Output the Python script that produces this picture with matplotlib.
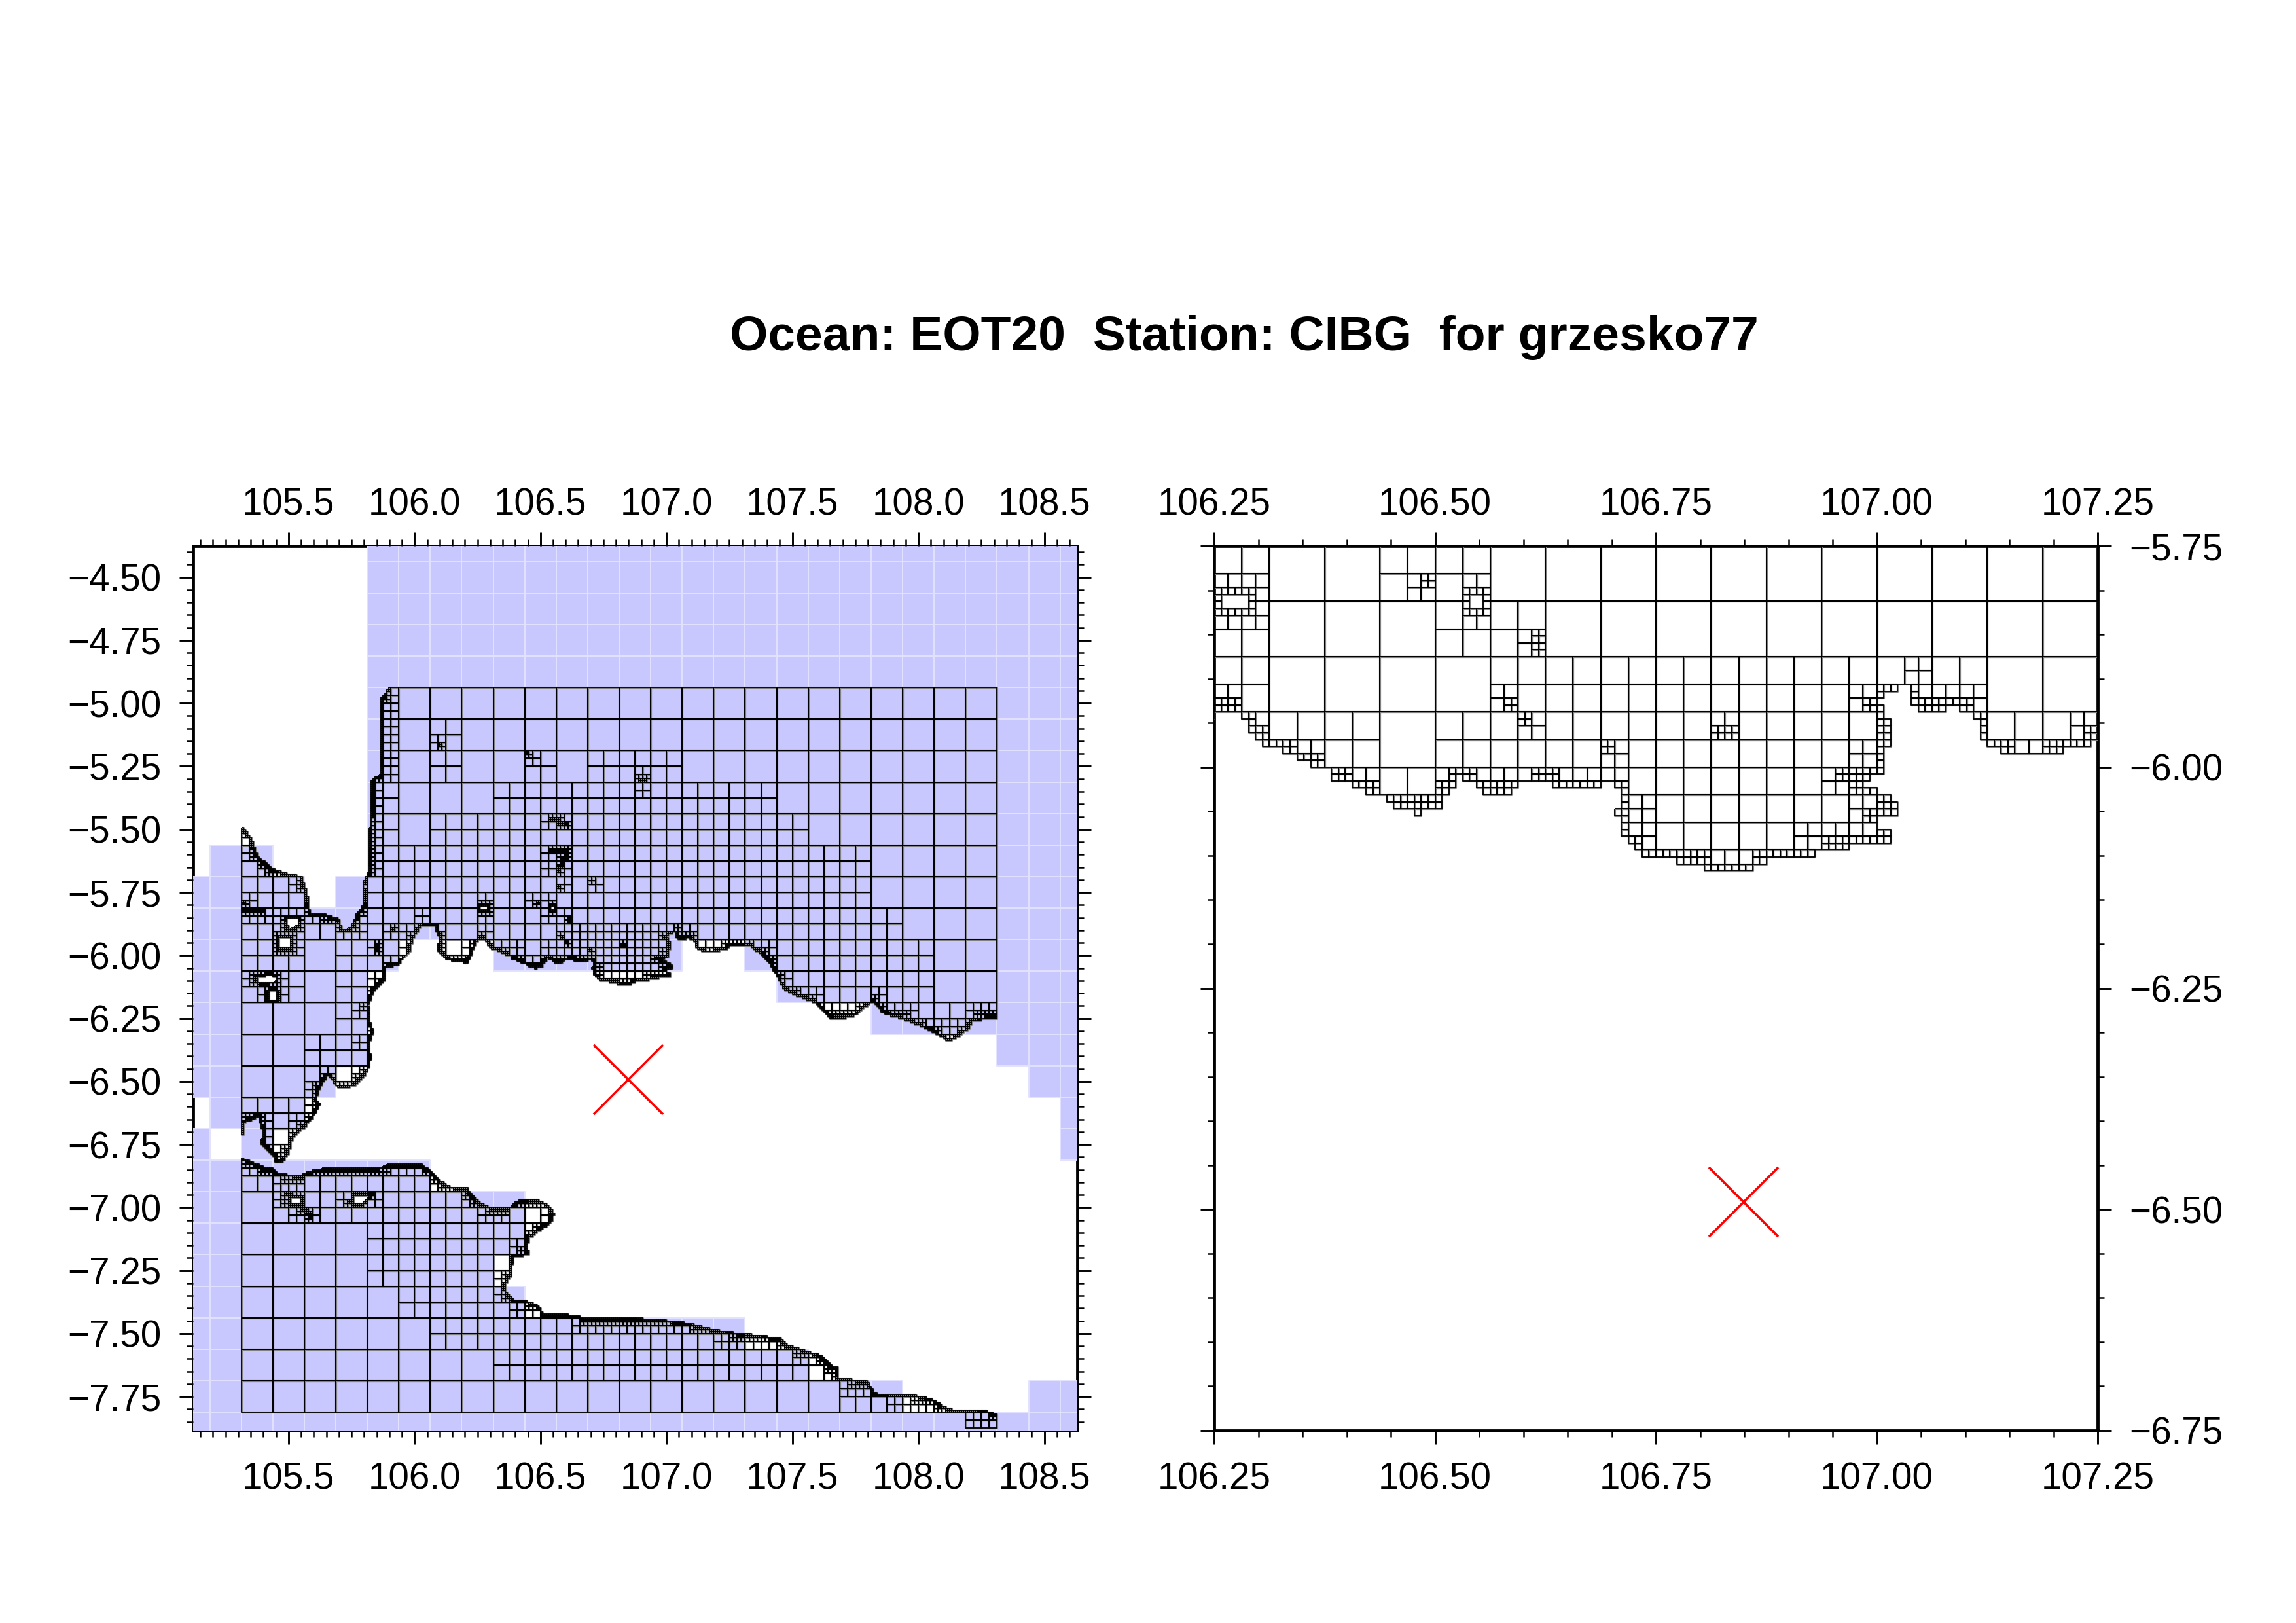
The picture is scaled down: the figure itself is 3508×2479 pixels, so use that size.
import matplotlib
matplotlib.use("Agg")
import matplotlib.pyplot as plt
import numpy as np
from matplotlib.path import Path
from matplotlib.patches import Polygon, Rectangle
from matplotlib.collections import LineCollection, PatchCollection
from matplotlib.ticker import MultipleLocator, FuncFormatter

plt.rcParams["font.family"] = ["Liberation Sans", "DejaVu Sans"]

title = "Ocean: EOT20  Station: CIBG  for grzesko77"
station = (106.849, -6.492)

# coarse blue cells: column west edge -> (top, bottom) lat spans
blue_spans = {
    105.0625: [(-5.6875, -6.5625), (-6.6875, -7.9375)],
    105.1875: [(-5.5625, -6.6875), (-6.8125, -7.9375)],
    105.3125: [(-5.5625, -7.9375)],
    105.4375: [(-5.6875, -6.6875), (-6.8125, -7.9375)],
    105.5625: [(-5.8125, -6.5625), (-6.8125, -7.9375)],
    105.6875: [(-5.6875, -6.4375), (-6.8125, -7.9375)],
    105.8125: [(-4.3125, -6.0625), (-6.8125, -7.9375)],
    105.9375: [(-4.3125, -5.9375), (-6.8125, -7.9375)],
    106.0625: [(-4.3125, -5.9375), (-6.9375, -7.9375)],
    106.1875: [(-4.3125, -5.9375), (-6.9375, -7.9375)],
    106.3125: [(-4.3125, -6.0625), (-6.9375, -7.1875), (-7.3125, -7.9375)],
    106.4375: [(-4.3125, -6.0625), (-7.4375, -7.9375)],
    106.5625: [(-4.3125, -6.0625), (-7.4375, -7.9375)],
    106.6875: [(-4.3125, -6.0625), (-7.4375, -7.9375)],
    106.8125: [(-4.3125, -6.0625), (-7.4375, -7.9375)],
    106.9375: [(-4.3125, -6.0625), (-7.4375, -7.9375)],
    107.0625: [(-4.3125, -5.9375), (-7.4375, -7.9375)],
    107.1875: [(-4.3125, -5.9375), (-7.4375, -7.9375)],
    107.3125: [(-4.3125, -6.0625), (-7.5625, -7.9375)],
    107.4375: [(-4.3125, -6.1875), (-7.5625, -7.9375)],
    107.5625: [(-4.3125, -6.1875), (-7.6875, -7.9375)],
    107.6875: [(-4.3125, -6.1875), (-7.6875, -7.9375)],
    107.8125: [(-4.3125, -6.3125), (-7.6875, -7.9375)],
    107.9375: [(-4.3125, -6.3125), (-7.8125, -7.9375)],
    108.0625: [(-4.3125, -6.3125), (-7.8125, -7.9375)],
    108.1875: [(-4.3125, -6.3125), (-7.8125, -7.9375)],
    108.3125: [(-4.3125, -6.4375), (-7.8125, -7.9375)],
    108.4375: [(-4.3125, -6.5625), (-7.6875, -7.9375)],
    108.5625: [(-4.3125, -6.8125), (-7.6875, -7.9375)],
}

# north sea outline: Sumatra coast, strait, north Java coast
north_sea = [
    (105.903, -4.937), (105.868, -4.984), (105.865, -5.282), (105.830, -5.302), (105.822, -5.560),
    (105.816, -5.679), (105.793, -5.712), (105.799, -5.799), (105.770, -5.838), (105.746, -5.891),
    (105.714, -5.902), (105.700, -5.858), (105.659, -5.841), (105.584, -5.832), (105.572, -5.746),
    (105.549, -5.686), (105.503, -5.679), (105.439, -5.659), (105.375, -5.606), (105.352, -5.540),
    (105.315, -5.487), (105.300, -5.480), (105.300, -6.708), (105.320, -6.708), (105.320, -6.661),
    (105.346, -6.656), (105.377, -6.639), (105.394, -6.682), (105.403, -6.721), (105.385, -6.734),
    (105.411, -6.769), (105.440, -6.791), (105.446, -6.821), (105.472, -6.821), (105.498, -6.786),
    (105.507, -6.756), (105.515, -6.721), (105.537, -6.700), (105.563, -6.682), (105.584, -6.652),
    (105.610, -6.622), (105.623, -6.587), (105.610, -6.570), (105.619, -6.535), (105.632, -6.509),
    (105.654, -6.475), (105.675, -6.488), (105.688, -6.518), (105.719, -6.526), (105.762, -6.513),
    (105.797, -6.483), (105.818, -6.444), (105.827, -6.405), (105.818, -6.353), (105.836, -6.301),
    (105.823, -6.258), (105.816, -6.196), (105.839, -6.143), (105.880, -6.103), (105.886, -6.050),
    (105.932, -6.037), (105.984, -5.984), (105.990, -5.938), (106.025, -5.885), (106.083, -5.885),
    (106.100, -5.931), (106.094, -5.984), (106.135, -6.017), (106.210, -6.030), (106.234, -5.971),
    (106.250, -5.938), (106.282, -5.938), (106.289, -5.960), (106.305, -5.972), (106.320, -5.979),
    (106.343, -5.987), (106.360, -5.999), (106.380, -6.004), (106.386, -6.014), (106.399, -6.018),
    (106.418, -6.026), (106.436, -6.031), (106.442, -6.034), (106.452, -6.043), (106.471, -6.045),
    (106.476, -6.055), (106.485, -6.047), (106.500, -6.045), (106.509, -6.041), (106.515, -6.026),
    (106.528, -6.010), (106.542, -6.014), (106.555, -6.026), (106.562, -6.031), (106.581, -6.031),
    (106.590, -6.020), (106.618, -6.018), (106.631, -6.018), (106.644, -6.026), (106.654, -6.027),
    (106.673, -6.020), (106.701, -6.019), (106.713, -6.031), (106.715, -6.042), (106.703, -6.047),
    (106.703, -6.054), (106.713, -6.062), (106.713, -6.073), (106.717, -6.085), (106.727, -6.093),
    (106.741, -6.101), (106.776, -6.103), (106.776, -6.109), (106.804, -6.109), (106.807, -6.119),
    (106.852, -6.119), (106.864, -6.109), (106.880, -6.103), (106.901, -6.098), (106.927, -6.098),
    (106.951, -6.095), (106.975, -6.087), (107.017, -6.082), (107.017, -6.074), (107.003, -6.067),
    (107.001, -6.059), (107.019, -6.056), (107.024, -6.043), (107.017, -6.031), (107.001, -6.027),
    (106.986, -6.026), (106.989, -6.008), (106.970, -6.011), (106.968, -6.006), (107.005, -6.004),
    (107.008, -5.991), (107.003, -5.985), (107.019, -5.971), (107.017, -5.952), (107.010, -5.947),
    (107.008, -5.933), (107.001, -5.932), (107.001, -5.921), (107.019, -5.915), (107.027, -5.909),
    (107.041, -5.910), (107.041, -5.925), (107.053, -5.937), (107.076, -5.937), (107.078, -5.931),
    (107.107, -5.935), (107.119, -5.959), (107.121, -5.970), (107.135, -5.979), (107.161, -5.988),
    (107.187, -5.988), (107.211, -5.980), (107.239, -5.973), (107.248, -5.964), (107.263, -5.960),
    (107.329, -5.960), (107.369, -5.991), (107.409, -6.030), (107.436, -6.077), (107.462, -6.130),
    (107.502, -6.156), (107.542, -6.170), (107.595, -6.189), (107.648, -6.249), (107.681, -6.252),
    (107.754, -6.236), (107.780, -6.209), (107.820, -6.183), (107.860, -6.229), (107.933, -6.249),
    (107.992, -6.272), (108.059, -6.302), (108.125, -6.339), (108.165, -6.315), (108.198, -6.289),
    (108.218, -6.256), (108.317, -6.249), (108.320, -4.930), (105.900, -4.930),
]

# south sea outline: south Java coast going east
south_sea = [
    (105.300, -6.800), (105.308, -6.804), (105.352, -6.819), (105.404, -6.844), (105.433, -6.844),
    (105.456, -6.869), (105.549, -6.874), (105.596, -6.854), (105.665, -6.842), (105.735, -6.842),
    (105.804, -6.844), (105.886, -6.839), (105.897, -6.829), (106.025, -6.827), (106.065, -6.859),
    (106.094, -6.888), (106.141, -6.918), (106.205, -6.923), (106.234, -6.958), (106.263, -6.983),
    (106.303, -7.001), (106.373, -7.001), (106.419, -6.968), (106.500, -6.973), (106.541, -7.003),
    (106.553, -7.028), (106.541, -7.062), (106.500, -7.087), (106.454, -7.122), (106.442, -7.167),
    (106.460, -7.187), (106.390, -7.197), (106.384, -7.251), (106.379, -7.271), (106.361, -7.301),
    (106.361, -7.331), (106.390, -7.366), (106.442, -7.370), (106.483, -7.385), (106.512, -7.420),
    (106.605, -7.425), (106.663, -7.435), (106.756, -7.440), (106.852, -7.435), (106.938, -7.445),
    (107.044, -7.452), (107.131, -7.470), (107.223, -7.492), (107.303, -7.500), (107.349, -7.505),
    (107.455, -7.520), (107.475, -7.544), (107.555, -7.569), (107.608, -7.584), (107.648, -7.624),
    (107.681, -7.639), (107.681, -7.679), (107.794, -7.689), (107.827, -7.738), (107.973, -7.743),
    (108.052, -7.758), (108.099, -7.788), (108.145, -7.805), (108.264, -7.805), (108.317, -7.823),
    (108.317, -7.900), (105.300, -7.900),
]

# small islands (holes in the mesh)
islands = [
    [(105.491, -5.851), (105.538, -5.851), (105.538, -5.880), (105.505, -5.898), (105.491, -5.880)],
    [(105.462, -5.931), (105.509, -5.931), (105.509, -5.971), (105.462, -5.971)],
    [(105.375, -6.090), (105.420, -6.077), (105.450, -6.085), (105.450, -6.105), (105.380, -6.110)],
    [(105.422, -6.143), (105.456, -6.143), (105.456, -6.176), (105.422, -6.176)],
    [(106.257, -5.806), (106.289, -5.806), (106.289, -5.820), (106.257, -5.820)],
    [(106.540, -5.808), (106.558, -5.808), (106.558, -5.818), (106.540, -5.818)],
    [(105.504, -6.960), (105.550, -6.960), (105.550, -6.985), (105.504, -6.985)],
    [(105.760, -6.950), (105.830, -6.950), (105.790, -6.985), (105.760, -6.985)],
]

# shoals that pull in fine cells (short traces)
shoals = [
    [(106.106, -5.169)], [(106.452, -5.202)], [(106.547, -5.454), (106.593, -5.480)],
    [(106.547, -5.580), (106.605, -5.593), (106.570, -5.666)], [(106.576, -5.732)],
    [(106.703, -5.703)], [(106.492, -5.789)], [(106.614, -5.861)],
    [(106.585, -5.928), (106.598, -5.941)], [(106.699, -5.976)], [(105.920, -5.894)],
    [(105.851, -5.971)], [(106.905, -5.302)], [(106.830, -5.960)],
    [(105.317, -5.825), (105.398, -5.825)], [(105.317, -5.790)],
    [(105.500, -6.950), (105.590, -7.035)], [(105.750, -6.975), (105.810, -6.960)],
    [(106.800, -6.122)], [(106.900, -6.125)],
]

mesh_lon_edges = [105.3125, 108.3125]
mesh_lat_edges = [-4.9375, -7.8125]
extra_roots = [(108.1875, -7.8125)]

# (west, east, north, south) of the areas cut to 1/16 and 1/32 degree
refine_16 = [
    (105.8125, 105.9375, -4.9375, -6.6), (106.0625, 106.1875, -5.0625, -5.1875),
    (105.9375, 106.0625, -5.5625, -6.1), (106.0625, 106.3125, -5.4375, -6.1),
    (106.3125, 106.4375, -5.3125, -6.1), (106.4375, 106.5625, -5.1875, -6.1),
    (106.5625, 106.6875, -5.3125, -6.1), (106.6875, 107.0625, -5.1875, -6.2),
    (107.0625, 107.4375, -5.3125, -6.2), (107.4375, 107.5625, -5.4375, -6.3),
    (107.5625, 107.8125, -5.5625, -6.3), (107.8125, 107.9375, -5.8125, -6.3),
    (107.9375, 108.0625, -5.9375, -6.4), (108.0625, 108.1875, -6.1875, -6.4),
    (105.3125, 105.5625, -5.5625, -6.1875), (105.5625, 105.6875, -5.8125, -5.9375),
    (105.6875, 105.8125, -5.9375, -6.5), (105.5625, 105.6875, -6.3, -6.7),
    (105.3125, 105.5625, -6.5625, -6.8), (105.3125, 105.4375, -6.75, -6.9375),
    (105.4375, 105.8125, -6.8125, -7.0625), (105.8125, 105.9375, -6.8125, -7.3125),
    (105.9375, 106.0625, -6.8125, -7.4375), (106.0625, 106.3125, -6.8125, -7.5625),
    (106.3125, 107.5625, -6.9, -7.6875), (107.5625, 107.6875, -7.5625, -7.6875),
    (107.6875, 107.9375, -7.6875, -7.8125),
]
refine_32 = [
    (106.625, 107.125, -5.875, -6.2), (107.125, 107.25, -5.9375, -6.0),
    (106.25, 106.3125, -5.75, -5.875), (106.4375, 106.5, -5.75, -5.8125),
    (106.5, 106.625, -5.8125, -5.875), (106.5625, 106.625, -5.875, -6.0),
    (106.5, 106.5625, -5.9375, -6.0), (106.3125, 106.4375, -5.9375, -6.0),
]

left_xticks = [105.5, 106.0, 106.5, 107.0, 107.5, 108.0, 108.5]
left_yticks = [-4.50, -4.75, -5.00, -5.25, -5.50, -5.75, -6.00, -6.25, -6.50, -6.75, -7.00, -7.25, -7.50, -7.75]
right_xticks = [106.25, 106.50, 106.75, 107.00, 107.25]
right_yticks = [-5.75, -6.00, -6.25, -6.50, -6.75]

NEAR = 0.68
FINEST = 1 / 128

# segments the refinement looks at, the straight west edge of the mesh is no coast
seg_a, seg_b = [], []
for ring in [north_sea[:-2], south_sea[:-2]] + [isl + isl[:1] for isl in islands]:
    for p, q in zip(ring[:-1], ring[1:]):
        if p[0] <= 105.301 and q[0] <= 105.301:
            continue
        seg_a.append(p)
        seg_b.append(q)
for tr in shoals:
    if len(tr) == 1:
        seg_a.append(tr[0])
        seg_b.append(tr[0])
    for p, q in zip(tr[:-1], tr[1:]):
        seg_a.append(p)
        seg_b.append(q)
seg_a = np.array(seg_a)
seg_b = np.array(seg_b)
seg_d = seg_b - seg_a
seg_l = np.maximum((seg_d ** 2).sum(axis=1), 1e-12)

sea_paths = [Path(north_sea), Path(south_sea)]
island_paths = [Path(isl) for isl in islands]


def near_coast(x, y):
    t = np.clip(((x - seg_a[:, 0]) * seg_d[:, 0] + (y - seg_a[:, 1]) * seg_d[:, 1]) / seg_l, 0, 1)
    dx = x - seg_a[:, 0] - t * seg_d[:, 0]
    dy = y - seg_a[:, 1] - t * seg_d[:, 1]
    return np.sqrt((dx ** 2 + dy ** 2).min())


def in_rects(rects, x, y):
    return any(w < x < e and s < y < n for w, e, n, s in rects)


def split_cell(west, north, size, cells):
    x = west + size / 2
    y = north - size / 2
    cut = False
    if size > FINEST:
        if size > 1 / 16 and in_rects(refine_16, x, y):
            cut = True
        elif size > 1 / 32 and in_rects(refine_32, x, y):
            cut = True
        elif near_coast(x, y) < NEAR * size:
            cut = True
    if cut:
        h = size / 2
        for dx, dy in [(0, 0), (h, 0), (0, h), (h, h)]:
            split_cell(west + dx, north - dy, h, cells)
        return
    inside = any(p.contains_point((x, y)) for p in sea_paths)
    hole = any(p.contains_point((x, y)) for p in island_paths)
    if inside and not hole:
        cells.append((west, north, size))


cells = []
for west in np.arange(mesh_lon_edges[0], mesh_lon_edges[1], 0.125):
    for north in np.arange(mesh_lat_edges[0], mesh_lat_edges[1], -0.125):
        split_cell(west, north, 0.125, cells)
for west, north in extra_roots:
    split_cell(west, north, 0.125, cells)

boxes = [
    [(w, n), (w + s, n), (w + s, n - s), (w, n - s), (w, n)]
    for w, n, s in cells
]

fig = plt.figure(figsize=(3508 / 300, 2479 / 300), dpi=300)
W, H = 3508.0, 2479.0
ax1 = fig.add_axes([294.6 / W, 1 - 2185 / H, 1351 / W, 1351 / H])
ax2 = fig.add_axes([1855 / W, 1 - 2185 / H, 1350 / W, 1351 / H])

# blue coarse cells only on the left map
blue = []
for lon0, spans in blue_spans.items():
    for top, bottom in spans:
        for north in np.arange(top, bottom - 0.01, -0.125)[:-1]:
            blue.append(Rectangle((lon0, north - 0.125), 0.125, 0.125))
ax1.add_collection(PatchCollection(blue, facecolor="#C8C8FF", edgecolor="#E2E2FF", linewidth=0.45, zorder=1))
for isl in islands:
    ax1.add_patch(Polygon(isl, closed=True, facecolor="white", edgecolor="none", zorder=1.5))


def minus_fmt(decimals):
    return FuncFormatter(lambda v, pos: f"{v:.{decimals}f}".replace("-", "\u2212"))


for ax in (ax1, ax2):
    # grey underlay gives the soft doubled look of the mesh lines
    ax.add_collection(LineCollection(boxes, colors="#808080", linewidths=0.75, zorder=1.8))
    ax.add_collection(LineCollection(boxes, colors="black", linewidths=0.42, zorder=2))
    ax.plot([station[0]], [station[1]], marker="x", color="red", markersize=25.4, markeredgewidth=0.85, zorder=3)
    for sp in ax.spines.values():
        sp.set_linewidth(1.15)
        sp.set_zorder(0.5)
    ax.tick_params(which="major", direction="out", length=5.0, width=0.7, top=True, right=True,
                   labeltop=True, labelbottom=True, labelsize=13.6, pad=6.5)
    ax.tick_params(which="minor", direction="out", length=2.4, width=0.6, top=True, right=True)
    ax.xaxis.set_minor_locator(MultipleLocator(0.05))
    ax.yaxis.set_minor_locator(MultipleLocator(0.05))

ax1.set_xlim(105.12, 108.63)
ax1.set_ylim(-7.885, -4.376)
ax1.set_xticks(left_xticks)
ax1.set_yticks(left_yticks)
ax1.xaxis.set_major_formatter(minus_fmt(1))
ax1.yaxis.set_major_formatter(minus_fmt(2))

ax2.set_xlim(106.25, 107.25)
ax2.set_ylim(-6.75, -5.75)
ax2.set_xticks(right_xticks)
ax2.set_yticks(right_yticks)
ax2.xaxis.set_major_formatter(minus_fmt(2))
ax2.yaxis.set_major_formatter(minus_fmt(2))
ax2.tick_params(axis="y", which="both", labelleft=False, labelright=True)

# top labels sit a little lower than the default
for ax in (ax1, ax2):
    for tk in ax.xaxis.get_major_ticks():
        tk.label2.set_verticalalignment("baseline")

fig.text(1901 / W, 1 - 535 / H, title, ha="center", va="baseline", fontsize=18, fontweight="bold")

fig.savefig("out.png", dpi=300)
